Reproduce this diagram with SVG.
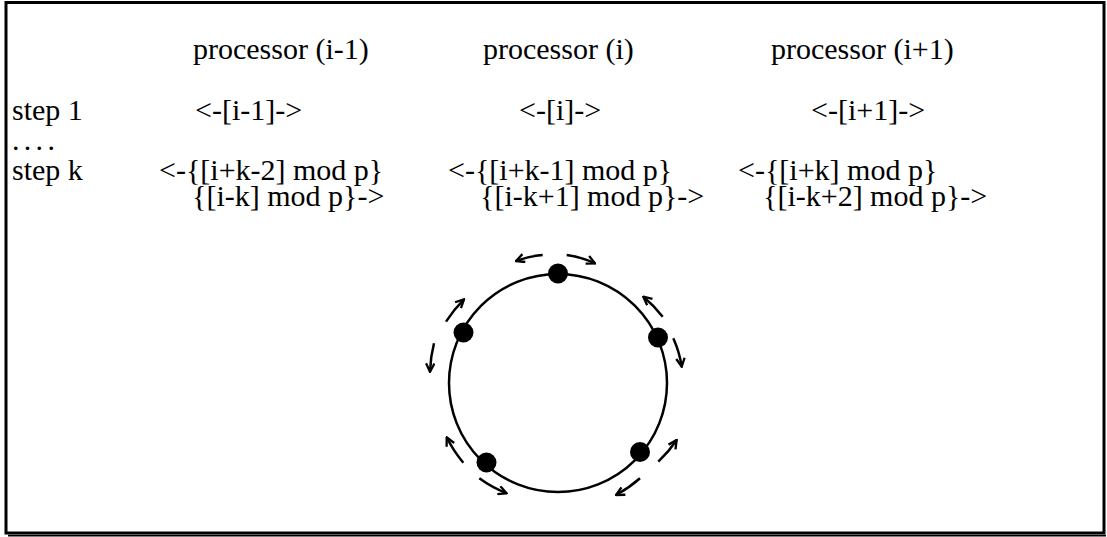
<svg xmlns="http://www.w3.org/2000/svg" width="1107" height="537" viewBox="0 0 1107 537">
<style>
text{font-family:"Liberation Serif","Times New Roman","DejaVu Serif",serif;font-size:30px;fill:#000}
.ring{fill:none;stroke:#000;stroke-width:2.5}
.node{fill:#000}
.arr{fill:none;stroke:#000;stroke-width:2.5;marker-end:url(#ah)}
</style>
<defs>
<marker id="ah" viewBox="0 0 10 10" refX="9" refY="5" markerWidth="10.5" markerHeight="10.5" markerUnits="userSpaceOnUse" orient="auto">
<path d="M1,1 L9,5 L1,9" fill="none" stroke="#000" stroke-width="2.2"/>
</marker>
</defs>
<rect width="1107" height="537" fill="#fff"/>
<rect x="6" y="2.5" width="1098" height="530.5" fill="none" stroke="#000" stroke-width="3"/>
<line x1="8" y1="535.6" x2="1106" y2="535.6" stroke="#000" stroke-width="1.6"/>
<g id="table" font-family="Liberation Serif, Times New Roman, serif">
<text x="193" y="59">processor (i-1)</text>
<text x="483" y="59">processor (i)</text>
<text x="771" y="59">processor (i+1)</text>
<text x="12" y="120">step 1</text>
<text x="195" y="120">&lt;-[i-1]-&gt;</text>
<text x="519" y="120">&lt;-[i]-&gt;</text>
<text x="811" y="120">&lt;-[i+1]-&gt;</text>
<text x="12" y="150" letter-spacing="4.3">....</text>
<text x="12" y="180">step k</text>
<text x="159" y="180">&lt;-{[i+k-2] mod p}<tspan x="192" y="206">{[i-k] mod p}-&gt;</tspan></text>
<text x="448" y="180">&lt;-{[i+k-1] mod p}<tspan x="480" y="206">{[i-k+1] mod p}-&gt;</tspan></text>
<text x="738" y="180">&lt;-{[i+k] mod p}<tspan x="763" y="206">{[i-k+2] mod p}-&gt;</tspan></text>
</g>
<circle class="ring" cx="558" cy="383" r="109"/>
<g id="node-top"><circle class="node" cx="558" cy="273.5" r="10"/></g>
<g id="node-upper-right"><circle class="node" cx="658" cy="337.5" r="10"/></g>
<g id="node-upper-left"><circle class="node" cx="463.5" cy="332.5" r="10"/></g>
<g id="node-lower-left"><circle class="node" cx="486.5" cy="462.5" r="10"/></g>
<g id="node-lower-right"><circle class="node" cx="640" cy="452" r="10"/></g>
<g id="connectors">
<path class="arr" d="M542.7,255 A100,100 0 0 0 516,261"/>
<path class="arr" d="M566.7,255 A100,100 0 0 1 595,263.3"/>
<path class="arr" d="M662.7,316.7 A123,123 0 0 0 643.3,296.7"/>
<path class="arr" d="M673.3,338.3 A110,110 0 0 1 681.7,366.7"/>
<path class="arr" d="M446,321.7 A127,127 0 0 1 464,299.3"/>
<path class="arr" d="M434,343.3 A129,129 0 0 0 430,371.7"/>
<path class="arr" d="M463.3,462.7 A124,124 0 0 1 446.7,437.3"/>
<path class="arr" d="M479.3,478.3 A123,123 0 0 0 506.7,493.3"/>
<path class="arr" d="M658.3,461.7 A129,129 0 0 0 676.7,440"/>
<path class="arr" d="M640,478.3 A126,126 0 0 1 616,495"/>
</g>
</svg>
